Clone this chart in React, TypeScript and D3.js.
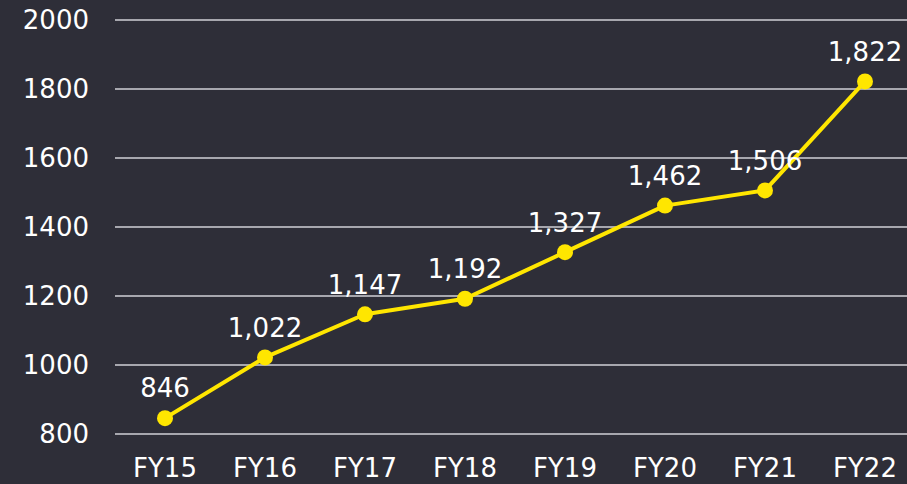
import React from "react";
import * as d3 from "d3";

const categories = ["FY15", "FY16", "FY17", "FY18", "FY19", "FY20", "FY21", "FY22"];
const values = [846, 1022, 1147, 1192, 1327, 1462, 1506, 1822];
const valueLabels = ["846", "1,022", "1,147", "1,192", "1,327", "1,462", "1,506", "1,822"];
const yTicks = [800, 1000, 1200, 1400, 1600, 1800, 2000];

const W = 907;
const H = 484;
const FONT = "'DejaVu Sans', Verdana, sans-serif";
const FS = 26;

export default function App() {
  const x = d3.scalePoint<string>().domain(categories).range([165, 865]);
  const y = d3.scaleLinear().domain([800, 2000]).range([434, 20]);
  const line = d3
    .line<number>()
    .x((_, i) => x(categories[i]) as number)
    .y((d) => y(d));

  return (
    <svg width={W} height={H} style={{ position: "absolute", left: 0, top: 0, background: "#2e2e38" }}>
      <rect x={0} y={0} width={W} height={H} fill="#2e2e38" />
      {yTicks.map((t) => (
        <g key={t}>
          <line x1={115} x2={W} y1={y(t)} y2={y(t)} stroke="#d0d0d6" strokeWidth={1.5} />
          <text x={89} y={y(t)} dy="0.36em" textAnchor="end" fill="#ffffff" fontFamily={FONT} fontSize={FS}>
            {t}
          </text>
        </g>
      ))}
      {categories.map((c) => (
        <text key={c} x={x(c)} y={468} dy="0.36em" textAnchor="middle" fill="#ffffff" fontFamily={FONT} fontSize={FS}>
          {c}
        </text>
      ))}
      <path d={line(values) || ""} fill="none" stroke="#ffe600" strokeWidth={4} strokeLinejoin="round" />
      {values.map((v, i) => (
        <circle key={i} cx={x(categories[i])} cy={y(v)} r={8} fill="#ffe600" />
      ))}
      {values.map((v, i) => (
        <text
          key={"l" + i}
          x={x(categories[i])}
          y={y(v) - 30}
          dy="0.36em"
          textAnchor="middle"
          fill="#ffffff"
          fontFamily={FONT}
          fontSize={FS}
        >
          {valueLabels[i]}
        </text>
      ))}
    </svg>
  );
}
